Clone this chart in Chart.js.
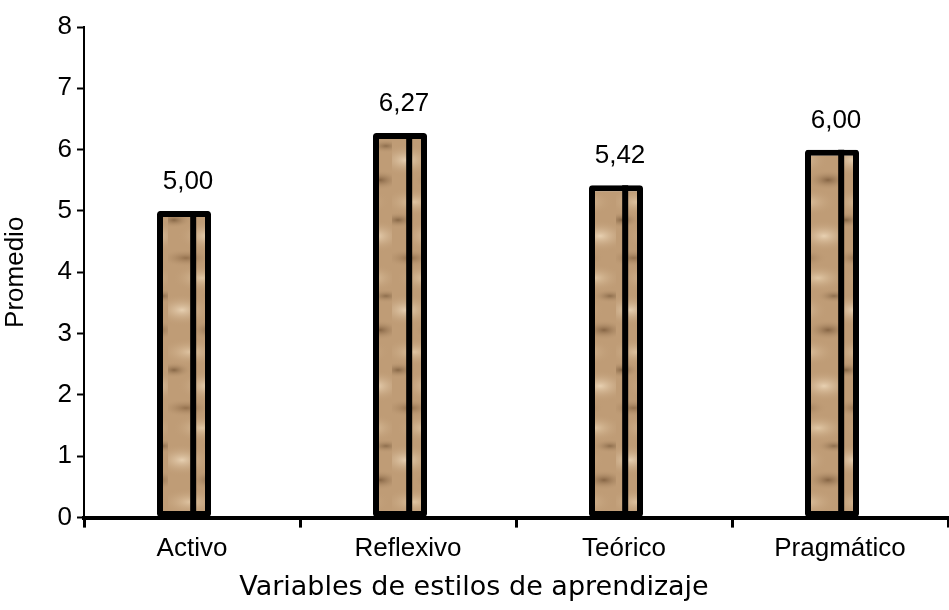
<!DOCTYPE html>
<html>
<head>
<meta charset="utf-8">
<script src="https://cdn.jsdelivr.net/npm/chart.js@4"></script>
<style>
  html, body { margin: 0; padding: 0; background: #fff; }
  #wrap { width: 949px; height: 610px; }
</style>
</head>
<body>
<div id="wrap"><canvas id="chart" width="949" height="610"></canvas></div>
<script>
  // ── Data ──────────────────────────────────────────────────────────────────
  const CATEGORIES = ["Activo", "Reflexivo", "Teórico", "Pragmático"];
  const PROMEDIOS  = [5.00, 6.27, 5.42, 6.00];
  const Y_TICKS    = [0, 1, 2, 3, 4, 5, 6, 7, 8];

  const INK = "#000000";
  const FONT = "'Liberation Sans', Arial, sans-serif";

  // ── Paper-like texture for the bars (fixed blotches, no randomness) ──────
  function paperPattern() {
    const c = document.createElement("canvas");
    c.width = 56; c.height = 150;
    const g = c.getContext("2d");
    g.fillStyle = "#bf9c76";
    g.fillRect(0, 0, 56, 150);
    const blots = [
      [14, 10, 30, 16, "rgba(232,210,180,0.95)"],
      [44, 30, 22, 10, "rgba(110,78,48,0.7)"],
      [22, 52, 32, 14, "rgba(226,200,166,0.9)"],
      [6,  70, 18, 8,  "rgba(105,75,45,0.65)"],
      [40, 86, 30, 16, "rgba(236,214,184,0.9)"],
      [18, 108, 26, 9, "rgba(125,90,56,0.65)"],
      [34, 128, 30, 14,"rgba(228,204,170,0.9)"],
      [50, 146, 18, 7, "rgba(110,80,50,0.6)"],
    ];
    blots.forEach(([x, y, rx, ry, col]) => {
      [-150, 0, 150].forEach(dy => {
        g.save();
        g.translate(x, y + dy);
        g.scale(1, ry / rx);
        const rg = g.createRadialGradient(0, 0, 0, 0, 0, rx);
        rg.addColorStop(0, col);
        rg.addColorStop(1, "rgba(191,156,118,0)");
        g.fillStyle = rg;
        g.beginPath();
        g.arc(0, 0, rx, 0, Math.PI * 2);
        g.fill();
        g.restore();
      });
    });
    return g.createPattern(c, "repeat");
  }

  // ── Plugin: nudge bars left, side-face line inside each bar, value labels ─
  const barDecor = {
    id: "barDecor",
    afterDatasetsUpdate(chart) {
      chart.getDatasetMeta(0).data.forEach(bar => { bar.x -= 8; });
    },
    afterDatasetsDraw(chart) {
      const ctx = chart.ctx;
      const meta = chart.getDatasetMeta(0);
      ctx.save();
      meta.data.forEach((bar, i) => {
        const left = bar.x - bar.width / 2;
        const xLine = left + bar.width * 0.67;
        ctx.strokeStyle = INK;
        ctx.lineWidth = 6;
        ctx.beginPath();
        ctx.moveTo(xLine, bar.y);
        ctx.lineTo(xLine, bar.base);
        ctx.stroke();

        ctx.fillStyle = INK;
        ctx.font = "26px " + FONT;
        ctx.textAlign = "center";
        ctx.textBaseline = "middle";
        ctx.fillText(PROMEDIOS[i].toFixed(2).replace(".", ","), bar.x + 4, bar.y - 29);
      });
      ctx.restore();
    },
  };

  new Chart(document.getElementById("chart"), {
    type: "bar",
    data: {
      labels: CATEGORIES,
      datasets: [{
        data: PROMEDIOS,
        backgroundColor: paperPattern(),
        borderColor: INK,
        borderWidth: 6,
        borderRadius: 3,
        borderSkipped: false,
        barPercentage: 0.5,
        categoryPercentage: 0.5,
      }],
    },
    options: {
      responsive: false,
      animation: false,
      layout: { padding: { left: 0, right: 1, top: 27, bottom: 0 } },
      plugins: {
        legend: { display: false },
        tooltip: { enabled: false },
        title: {
          display: true,
          position: "bottom",
          text: "Variables de estilos de aprendizaje",
          color: INK,
          font: { size: 27, family: "'DejaVu Sans', sans-serif", weight: "normal" },
          padding: { top: 4, bottom: 6 },
        },
      },
      scales: {
        x: {
          offset: true,
          grid: {
            offset: true,
            drawOnChartArea: false,
            drawTicks: true,
            tickLength: 10,
            tickWidth: 3,
            tickColor: INK,
          },
          border: { display: true, color: INK, width: 4 },
          ticks: { color: INK, font: { size: 26, family: FONT }, padding: 6 },
          afterFit: (s) => { s.height = 50; },
        },
        y: {
          min: 0,
          max: 8,
          afterBuildTicks: (s) => { s.ticks = Y_TICKS.map(v => ({ value: v })); },
          grid: {
            drawOnChartArea: false,
            drawTicks: true,
            tickLength: 7,
            tickWidth: 2,
            tickColor: INK,
          },
          border: { display: true, color: INK, width: 2 },
          ticks: { color: INK, font: { size: 26, family: FONT }, padding: 5 },
          title: {
            display: true,
            text: "Promedio",
            color: INK,
            font: { size: 26, family: FONT },
            padding: { top: 0, bottom: 4 },
          },
          afterFit: (s) => { s.width = 84; },
        },
      },
    },
    plugins: [barDecor],
  });
</script>
</body>
</html>
